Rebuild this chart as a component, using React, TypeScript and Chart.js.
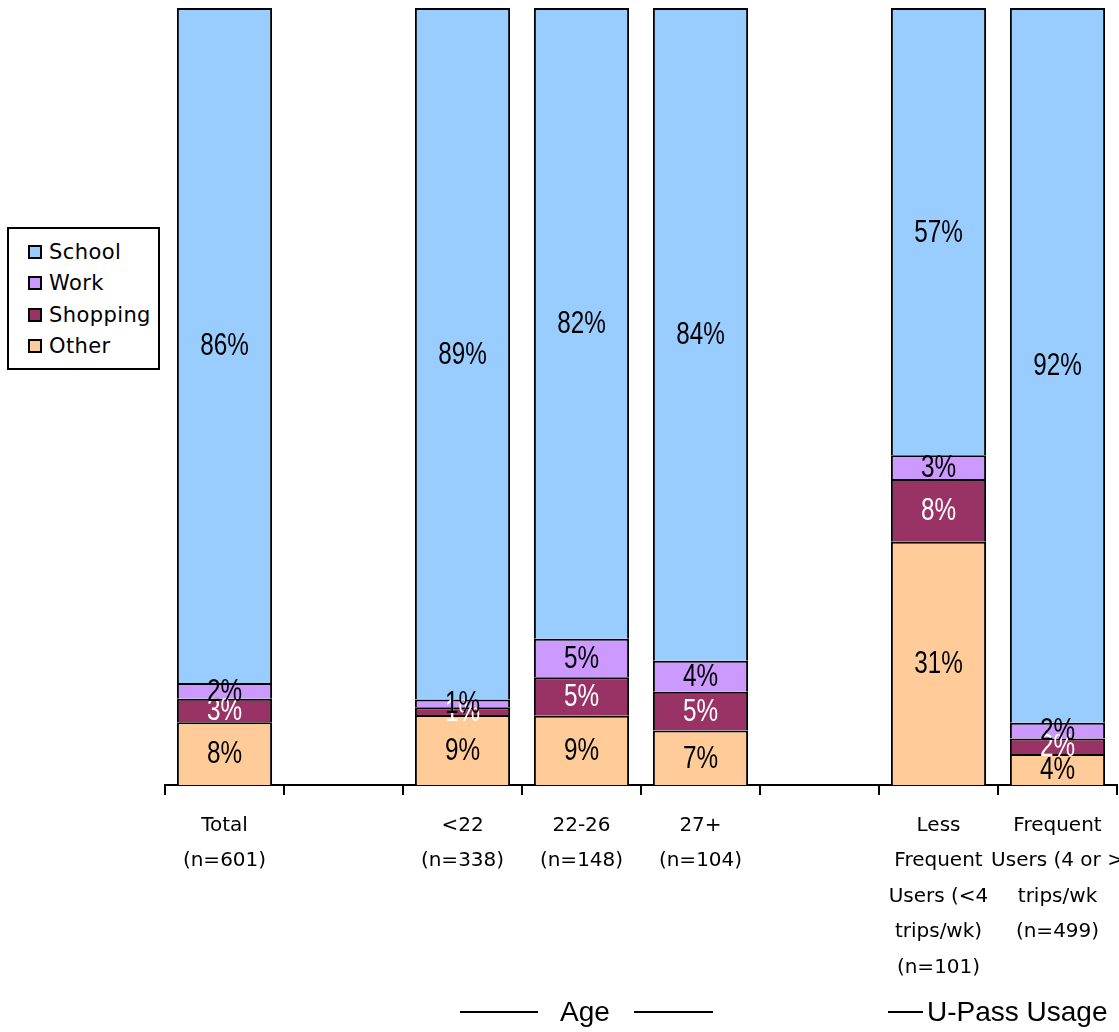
import React, { useEffect, useRef } from "react";
import { Chart, registerables } from "chart.js";

Chart.register(...registerables);

const categories: (string | string[])[] = [
  ["Total", "(n=601)"],
  "",
  ["<22", "(n=338)"],
  ["22-26", "(n=148)"],
  ["27+", "(n=104)"],
  "",
  ["Less", "Frequent", "Users (<4", "trips/wk)", "(n=101)"],
  ["Frequent", "Users (4 or >", "trips/wk", "(n=499)"],
];
const school = [86, null, 89, 82, 84, null, 57, 92];
const work = [2, null, 1, 5, 4, null, 3, 2];
const shopping = [3, null, 1, 5, 5, null, 8, 2];
const other = [8, null, 9, 9, 7, null, 31, 4];

const seriesNames = ["School", "Work", "Shopping", "Other"];
const seriesColors = ["#99CCFF", "#CC99FF", "#993366", "#FFCC99"];
const labelColors = ["#000000", "#000000", "#FFFFFF", "#000000"];

const totals = categories.map((_, i) =>
  [school, work, shopping, other].reduce((s, arr) => s + (arr[i] ?? 0), 0)
);
const share = (arr: (number | null)[]) =>
  arr.map((v, i) => (v == null ? null : (v / totals[i]) * 100));

const labelPlugin = {
  id: "segLabels",
  afterDatasetsDraw(chart: any) {
    const ctx = chart.ctx;
    chart.data.datasets.forEach((ds: any, di: number) => {
      const meta = chart.getDatasetMeta(di);
      meta.data.forEach((el: any, i: number) => {
        const raw = ds.rawValues[i];
        if (raw == null) return;
        ctx.save();
        ctx.font = '32px "Liberation Sans", sans-serif';
        ctx.textAlign = "center";
        ctx.textBaseline = "middle";
        ctx.fillStyle = ds.labelColor;
        ctx.translate(el.x, (el.y + el.base) / 2 + 1);
        ctx.scale(0.76, 1);
        ctx.fillText(raw + "%", 0, 0);
        ctx.restore();
      });
    });
  },
};

export default function App() {
  const ref = useRef<HTMLCanvasElement>(null);
  useEffect(() => {
    if (!ref.current) return;
    const order = [3, 2, 1, 0];
    const raws = [school, work, shopping, other];
    const chart = new Chart(ref.current, {
      type: "bar",
      data: {
        labels: categories,
        datasets: order.map((k) => ({
          label: seriesNames[k],
          data: share(raws[k]),
          rawValues: raws[k],
          labelColor: labelColors[k],
          backgroundColor: seriesColors[k],
          borderColor: "#000000",
          borderWidth: 2,
          borderSkipped: "start",
          barPercentage: 0.8,
          categoryPercentage: 1.0,
        })) as any,
      },
      options: {
        animation: false,
        responsive: false,
        maintainAspectRatio: false,
        layout: { padding: { left: 165, top: 8, right: 2, bottom: 33.5 } },
        plugins: { legend: { display: false }, tooltip: { enabled: false } },
        scales: {
          x: {
            stacked: true,
            offset: true,
            afterFit: (s: any) => {
              s.paddingRight = 0;
              s.paddingLeft = 0;
            },
            grid: {
              offset: true,
              drawOnChartArea: false,
              drawTicks: true,
              tickLength: 10,
              color: "#000000",
              lineWidth: 2,
            },
            border: { display: true, color: "#000000", width: 2 },
            ticks: {
              color: "#000000",
              padding: 13,
              maxRotation: 0,
              autoSkip: false,
              font: { family: '"DejaVu Sans", sans-serif', size: 20, lineHeight: 35.5 / 20 },
            },
          },
          y: {
            stacked: true,
            display: false,
            min: 0,
            max: 100,
          },
        },
      },
      plugins: [labelPlugin],
    });
    return () => chart.destroy();
  }, []);

  const legendFont = '"DejaVu Sans", sans-serif';
  const groupFont = '"Liberation Sans", sans-serif';
  const line = (left: number, width: number) => (
    <div
      style={{
        position: "absolute",
        left,
        top: 1011,
        width,
        height: 0,
        borderTop: "2px solid #000",
      }}
    />
  );

  return (
    <div style={{ position: "absolute", left: 0, top: 0, width: 1119, height: 1032, overflow: "hidden", background: "#fff" }}>
      <canvas ref={ref} width={1119} height={1032} style={{ position: "absolute", left: 0, top: 0 }} />
      <div
        style={{
          position: "absolute",
          left: 7,
          top: 227,
          width: 149,
          height: 139,
          border: "2px solid #000",
          background: "#fff",
        }}
      >
        {seriesNames.map((n, i) => (
          <div
            key={n}
            style={{
              position: "absolute",
              left: 19,
              top: 9 + i * 31.3,
              height: 28,
              display: "flex",
              alignItems: "center",
              fontFamily: legendFont,
              fontSize: 21,
              letterSpacing: "0.4px",
              color: "#000",
              whiteSpace: "nowrap",
            }}
          >
            <span
              style={{
                display: "inline-block",
                width: 10,
                height: 10,
                border: "2px solid #000",
                background: seriesColors[i],
                marginRight: 7,
              }}
            />
            {n}
          </div>
        ))}
      </div>
      {line(460, 78)}
      {line(634, 79)}
      <div
        style={{
          position: "absolute",
          left: 535,
          width: 100,
          top: 996,
          textAlign: "center",
          fontFamily: groupFont,
          fontSize: 28,
          lineHeight: "32px",
          color: "#000",
        }}
      >
        Age
      </div>
      {line(888, 35)}
      <div
        style={{
          position: "absolute",
          left: 927,
          top: 996,
          fontFamily: groupFont,
          fontSize: 28,
          lineHeight: "32px",
          color: "#000",
          whiteSpace: "nowrap",
        }}
      >
        U-Pass Usage
      </div>
    </div>
  );
}
